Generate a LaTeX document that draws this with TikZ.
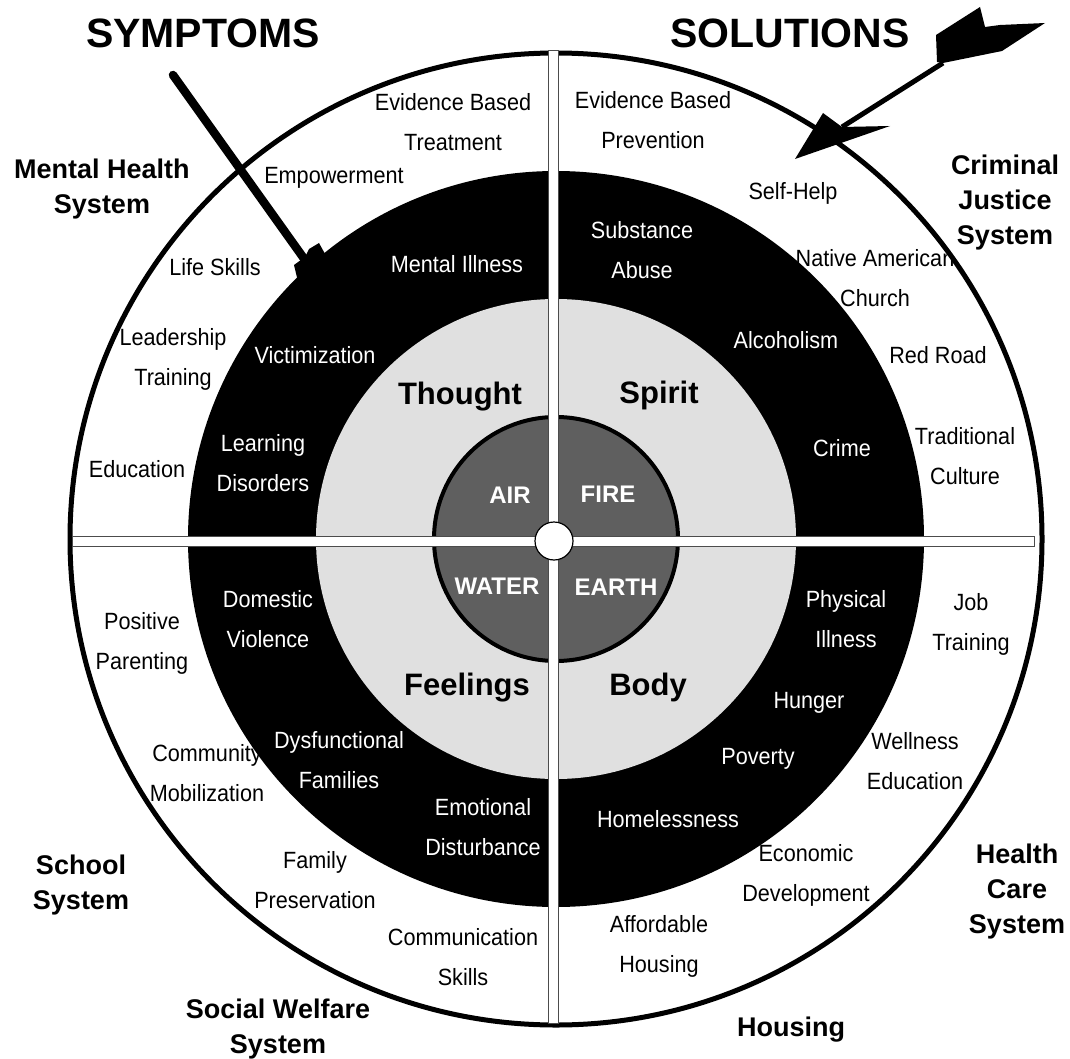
\documentclass[tikz,border=0pt]{standalone}
\usepackage{fontspec}
\setmainfont{Liberation Sans}
\newfontfamily\labelfont[FakeStretch=0.92]{Liberation Sans}
\definecolor{ringgray}{HTML}{E0E0E0}
\definecolor{coregray}{HTML}{5F5F5F}
\begin{document}
\begin{tikzpicture}[x=1pt,y=-1pt,
  lbl/.style={align=center,font=\labelfont\fontsize{23.5}{40}\selectfont,inner sep=0pt},
  wlbl/.style={lbl,text=white},
  sys/.style={align=center,font=\bfseries\fontsize{27}{35}\selectfont,inner sep=0pt},
  elem/.style={font=\bfseries\fontsize{31}{36}\selectfont,inner sep=0pt},
  core/.style={font=\bfseries\fontsize{24}{28}\selectfont,text=white,inner sep=0pt},
  title/.style={font=\bfseries\fontsize{41}{44}\selectfont,inner sep=0pt},
  bar/.style={draw=black!70,fill=white,line width=1pt}]
\useasboundingbox (0,0) rectangle (1070,1059);
% rings
\filldraw[fill=white,draw=black,line width=5pt] (556,539) circle (486pt);
\fill[black] (556,539) circle (368pt);
\fill[ringgray] (556,539) circle (240pt);
\filldraw[fill=coregray,draw=black,line width=4pt] (556,539) circle (122pt);
% cross
\draw[bar] (548,51) rectangle (558,1023);
\draw[bar] (72,536) rectangle (1034,546);
\filldraw[fill=white,draw=black,line width=1.2pt] (554,541) circle (19pt);
% titles
\node[title] (symptoms) at (203,33) {SYMPTOMS};
\node[title] (solutions) at (790,33) {SOLUTIONS};
% systems
\node[sys] (mhs) at (102,189) {Mental Health\\System};
\node[sys] (cjs) at (1005,203) {Criminal\\Justice\\System};
\node[sys] (ss) at (81,885) {School\\System};
\node[sys] (sws) at (278,1029) {Social Welfare\\System};
\node[sys] (hcs) at (1017,892) {Health\\Care\\System};
\node[sys] (hous) at (791,1030) {Housing};
% elements
\node[elem] (thought) at (460,397) {Thought};
\node[elem] (spirit) at (659,395) {Spirit};
\node[elem] (feelings) at (467,688) {Feelings};
\node[elem] (body) at (648,687) {Body};
\node[core] (air) at (510,495) {AIR};
\node[core] (fire) at (608,494) {FIRE};
\node[core] (water) at (497,586) {WATER};
\node[core] (earth) at (616,587) {EARTH};
% symptoms (black ring)
\node[wlbl] (mental) at (457,264) {Mental Illness};
\node[wlbl] (victim) at (315,355) {Victimization};
\node[wlbl] (learn) at (263,463) {Learning\\Disorders};
\node[wlbl] (subst) at (642,250) {Substance\\Abuse};
\node[wlbl] (alcohol) at (786,340) {Alcoholism};
\node[wlbl] (crime) at (842,448) {Crime};
\node[wlbl] (domestic) at (268,619) {Domestic\\Violence};
\node[wlbl] (dysfunc) at (339,760) {Dysfunctional\\Families};
\node[wlbl] (emotion) at (483,827) {Emotional\\Disturbance};
\node[wlbl] (physical) at (846,619) {Physical\\Illness};
\node[wlbl] (hunger) at (809,703) {Hunger};
\node[wlbl] (poverty) at (758,759) {Poverty};
\node[wlbl] (homeless) at (668,819) {Homelessness};
% solutions (white ring)
\node[lbl] (ebt) at (453,122) {Evidence Based\\Treatment};
\node[lbl] (empower) at (334,178) {Empowerment};
\node[lbl] (life) at (215,267) {Life Skills};
\node[lbl] (leader) at (173,359) {Leadership\\Training};
\node[lbl] (educ) at (137,469) {Education};
\node[lbl] (ebp) at (653,120) {Evidence Based\\Prevention};
\node[lbl] (selfhelp) at (793,193) {Self-Help};
\node[lbl] (nac) at (875,278) {Native American\\Church};
\node[lbl] (redroad) at (938,355) {Red Road};
\node[lbl] (tradit) at (965,456) {Traditional\\Culture};
\node[lbl] (parent) at (142,643) {Positive\\Parenting};
\node[lbl] (commob) at (207,773) {Community\\Mobilization};
\node[lbl] (famp) at (315,880) {Family\\Preservation};
\node[lbl] (commsk) at (463,957) {Communication\\Skills};
\node[lbl] (job) at (971,624) {Job\\Training};
\node[lbl] (wellness) at (915,761) {Wellness\\Education};
\node[lbl] (econ) at (806,875) {Economic\\Development};
\node[lbl] (afford) at (659,946) {Affordable\\Housing};
% arrows
\coordinate (symtail) at (173,75);
\coordinate (symhead) at (305,260);
\draw[line width=8.5pt,line cap=round] (symtail) -- (symhead);
\fill (294,265) -- (305,257) -- (309,249) -- (319,243) -- (345,290) -- (300,290) -- cycle;
\coordinate (soltail) at (943,63);
\coordinate (solhead) at (842,127);
\draw[line width=5pt] (soltail) -- (solhead);
\fill (795,159) -- (823,113) -- (842,127) -- (890,126) -- cycle;
\fill (937,62) -- (936,35) -- (980,7) -- (985,27) -- (1000,25) -- (1045,23) -- (1002,51) -- (943,63) -- cycle;
\end{tikzpicture}
\end{document}
